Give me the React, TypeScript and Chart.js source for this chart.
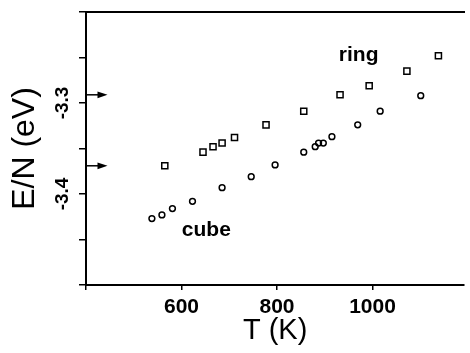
import React, { useEffect, useRef } from "react";
import { Chart, registerables } from "chart.js";

Chart.register(...registerables);

// Energy per atom versus temperature for the two isomers
const RING_T = [565, 645, 666, 685, 711, 777, 856, 932, 993, 1072, 1138];
const RING_E = [-3.369, -3.354, -3.348, -3.344, -3.338, -3.324, -3.309, -3.291, -3.281, -3.265, -3.248];
const CUBE_T = [538, 559, 581, 623, 685, 746, 796, 856, 880, 887, 897, 915, 969, 1016, 1101];
const CUBE_E = [-3.427, -3.423, -3.416, -3.408, -3.393, -3.381, -3.368, -3.354, -3.348, -3.344, -3.344, -3.337, -3.324, -3.309, -3.292];

// Axis ranges and ticks
const T_MIN = 400;
const T_MAX = 1192;
const E_MIN = -3.5;
const E_MAX = -3.2;
const T_TICKS = [400, 600, 800, 1000];
const T_LABELLED = [600, 800, 1000];
const E_STEP = 0.05;
const E_LABELLED = [-3.3, -3.4];

// Reference levels marked by arrows on the energy axis
const ARROW_E = [-3.291, -3.369];
const ARROW_TIP_T = 445;

// Series names written inside the plot
const SERIES_NAMES = ["ring", "cube"];
const SERIES_NAME_T = [971, 652];
const SERIES_NAME_E = [-3.247, -3.44];

const FONT = "'Liberation Sans', Arial, Helvetica, sans-serif";

const near = (a: number, b: number) => Math.abs(a - b) < 1e-6;

const overlayPlugin = {
  id: "overlay",
  afterDatasetsDraw(chart: any) {
    const { ctx, scales } = chart;
    const xs = scales.x;
    const ys = scales.y;
    ctx.save();
    ctx.fillStyle = "#000";
    ctx.strokeStyle = "#000";
    // arrows
    ARROW_E.forEach((e) => {
      const y = ys.getPixelForValue(e);
      const x0 = xs.getPixelForValue(T_MIN);
      const x1 = xs.getPixelForValue(ARROW_TIP_T);
      ctx.lineWidth = 1.5;
      ctx.beginPath();
      ctx.moveTo(x0, y);
      ctx.lineTo(x1 - 7, y);
      ctx.stroke();
      ctx.beginPath();
      ctx.moveTo(x1, y);
      ctx.lineTo(x1 - 10, y - 3.4);
      ctx.lineTo(x1 - 10, y + 3.4);
      ctx.closePath();
      ctx.fill();
    });
    // series names
    ctx.font = `bold 21px ${FONT}`;
    ctx.textAlign = "center";
    ctx.textBaseline = "middle";
    SERIES_NAMES.forEach((name, i) => {
      ctx.fillText(name, xs.getPixelForValue(SERIES_NAME_T[i]), ys.getPixelForValue(SERIES_NAME_E[i]));
    });
    ctx.restore();
  },
};

export default function App() {
  const canvasRef = useRef<HTMLCanvasElement | null>(null);

  useEffect(() => {
    if (!canvasRef.current) return;
    const chart = new Chart(canvasRef.current, {
      type: "scatter",
      data: {
        datasets: [
          {
            label: "ring",
            data: RING_T.map((t, i) => ({ x: t, y: RING_E[i] })),
            pointStyle: "rect",
            pointRadius: 4.3,
            borderWidth: 1.5,
            borderColor: "#000",
            backgroundColor: "rgba(255,255,255,0)",
          },
          {
            label: "cube",
            data: CUBE_T.map((t, i) => ({ x: t, y: CUBE_E[i] })),
            pointStyle: "circle",
            pointRadius: 2.9,
            borderWidth: 1.5,
            borderColor: "#000",
            backgroundColor: "rgba(255,255,255,0)",
          },
        ],
      },
      options: {
        responsive: false,
        animation: false,
        devicePixelRatio: 1,
        layout: { padding: { top: 12, left: 0, right: 0, bottom: 0 } },
        plugins: {
          legend: { display: false },
          tooltip: { enabled: false },
        },
        scales: {
          x: {
            type: "linear",
            position: "bottom",
            min: T_MIN,
            max: T_MAX,
            afterBuildTicks: (scale: any) => {
              scale.ticks = T_TICKS.map((v) => ({ value: v }));
            },
            afterFit: (scale: any) => {
              scale.height = 68;
            },
            ticks: {
              color: "#000",
              padding: 5,
              maxRotation: 0,
              font: { family: FONT, size: 21, weight: "bold" },
              callback: (v: any) => (T_LABELLED.some((t) => near(t, Number(v))) ? String(v) : ""),
            },
            grid: {
              display: true,
              drawOnChartArea: false,
              drawTicks: true,
              tickLength: 5,
              color: "#000",
              lineWidth: 1.5,
            },
            border: { display: true, color: "#000", width: 2 },
            title: {
              display: true,
              text: "T (K)",
              color: "#000",
              font: { family: FONT, size: 29, weight: "normal", lineHeight: 1.2 },
              padding: { top: 0, bottom: 5 },
            },
          },
          xTop: {
            type: "linear",
            position: "top",
            min: T_MIN,
            max: T_MAX,
            afterFit: (scale: any) => {
              scale.height = 0;
            },
            ticks: { display: false },
            grid: { display: false, drawTicks: false },
            border: { display: true, color: "#000", width: 2 },
          },
          y: {
            type: "linear",
            position: "left",
            min: E_MIN,
            max: E_MAX,
            afterFit: (scale: any) => {
              scale.width = 86;
            },
            ticks: {
              stepSize: E_STEP,
              color: "#000",
              padding: 0,
              minRotation: 90,
              maxRotation: 90,
              crossAlign: "center",
              font: { family: FONT, size: 19, weight: "bold" },
              callback: (v: any) =>
                E_LABELLED.some((e) => near(e, Number(v))) ? Number(v).toFixed(1) : "",
            },
            grid: {
              display: true,
              drawOnChartArea: false,
              drawTicks: true,
              tickLength: 7,
              color: "#000",
              lineWidth: 1.5,
            },
            border: { display: true, color: "#000", width: 2 },
            title: {
              display: true,
              text: "E/N (eV)",
              color: "#000",
              font: { family: FONT, size: 32, weight: "normal", lineHeight: 1.2 },
              padding: { top: 6, bottom: 0 },
            },
          },
        },
      },
      plugins: [overlayPlugin],
    } as any);
    return () => chart.destroy();
  }, []);

  return (
    <div style={{ position: "fixed", left: 0, top: 0, width: 470, height: 353, background: "#fff" }}>
      <canvas ref={canvasRef} width={470} height={353} style={{ display: "block" }} />
    </div>
  );
}
